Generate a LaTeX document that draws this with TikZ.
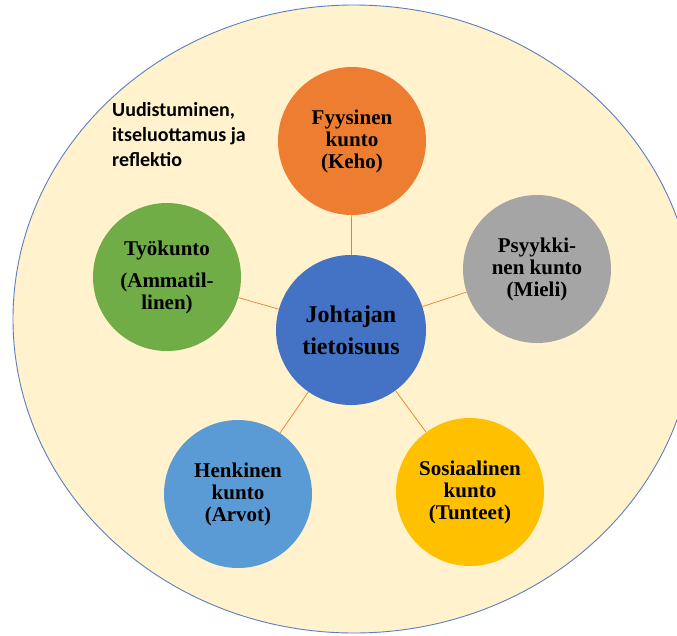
\documentclass[tikz,border=0pt]{standalone}
\usepackage{fontspec}
\setmainfont{Liberation Serif}
\newfontfamily\notefont{Carlito}
\definecolor{bgfill}{HTML}{FFF2CC}
\definecolor{rimblue}{HTML}{5B7FC0}
\definecolor{corecol}{HTML}{4472C4}
\definecolor{bodycol}{HTML}{ED7D31}
\definecolor{mindcol}{HTML}{A5A5A5}
\definecolor{workcol}{HTML}{70AD47}
\definecolor{spiritcol}{HTML}{5B9BD5}
\definecolor{socialcol}{HTML}{FFC000}
\begin{document}
\begin{tikzpicture}[x=1pt,y=-1pt,
  kunto/.style={circle,minimum size=148pt,inner sep=0pt,align=center,
    font=\fontsize{21}{22}\selectfont\bfseries,text=black},
  core/.style={circle,minimum size=150pt,inner sep=0pt,align=center,fill=corecol,
    font=\fontsize{24}{32}\selectfont\bfseries,text=black},
  spoke/.style={draw=bodycol,line width=0.7pt}]
  \useasboundingbox (0,0) rectangle (677,635);
  % outer field
  \draw[fill=bgfill,draw=rimblue,line width=0.9pt] (354,319) ellipse [x radius=341pt,y radius=314pt];
  % centre and the five dimensions
  \node[core] (c) at (351,330) {Johtajan\\tietoisuus};
  \node[kunto,fill=bodycol] (body) at (352,141) {Fyysinen\\kunto\\(Keho)};
  \node[kunto,fill=mindcol] (mind) at (537,269) {Psyykki-\\nen kunto\\(Mieli)};
  \node[kunto,fill=workcol] (work) at (167,277) {Työkunto\\[10pt](Ammatil-\\linen)};
  \node[kunto,fill=spiritcol] (spirit) at (238,494) {Henkinen\\kunto\\(Arvot)};
  \node[kunto,fill=socialcol] (social) at (470,492) {Sosiaalinen\\kunto\\(Tunteet)};
  % spokes
  \foreach \t in {body,mind,work,spirit,social}
    \draw[spoke] (c) -- (\t);
  % side note
  \node[anchor=north west,align=left,inner sep=0pt,
    font=\notefont\bfseries\fontsize{20}{25}\selectfont] (note) at (112,102)
    {Uudistuminen,\\itseluottamus ja\\reflektio};
\end{tikzpicture}
\end{document}
